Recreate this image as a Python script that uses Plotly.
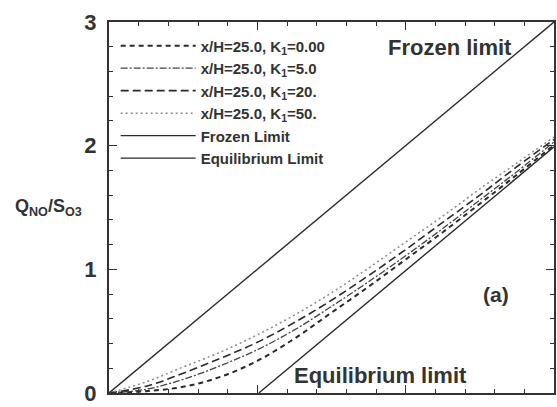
import plotly.graph_objects as go

x_vals = [0.0, 0.25, 0.5, 0.75, 1.0, 1.25, 1.5, 1.75, 2.0, 2.25, 2.5, 2.75, 3.0]
k0 = [0.0, 0.015, 0.05, 0.13, 0.26, 0.44, 0.65, 0.86, 1.08, 1.30, 1.53, 1.765, 2.005]
k5 = [0.0, 0.03, 0.11, 0.22, 0.35, 0.51, 0.70, 0.90, 1.11, 1.33, 1.56, 1.79, 2.03]
k20 = [0.0, 0.055, 0.16, 0.28, 0.41, 0.57, 0.75, 0.95, 1.16, 1.38, 1.60, 1.83, 2.05]
k50 = [0.0, 0.09, 0.21, 0.33, 0.47, 0.63, 0.81, 1.01, 1.22, 1.43, 1.65, 1.86, 2.07]
frozen_x = [0.0, 3.0]
frozen_y = [0.0, 3.0]
equil_x = [1.01, 3.0]
equil_y = [0.0, 1.99]

names = ["x/H=25.0, K<sub>1</sub>=0.00", "x/H=25.0, K<sub>1</sub>=5.0",
         "x/H=25.0, K<sub>1</sub>=20.", "x/H=25.0, K<sub>1</sub>=50.",
         "Frozen Limit", "Equilibrium Limit"]
y_tick_vals = [0, 1, 2, 3]
y_tick_text = ["0", "1", "2", "3"]

FONT = "Liberation Sans, Arial"
ink = "#2a2a2a"
fig = go.Figure()
fig.add_trace(go.Scatter(x=x_vals, y=k0, mode="lines", name="<b>" + names[0] + "</b>",
                         line=dict(color=ink, width=2, dash="5px,4px"), line_shape="spline"))
fig.add_trace(go.Scatter(x=x_vals, y=k5, mode="lines", name="<b>" + names[1] + "</b>",
                         line=dict(color="#444", width=1.3, dash="7px,2px,2px,2px"), line_shape="spline"))
fig.add_trace(go.Scatter(x=x_vals, y=k20, mode="lines", name="<b>" + names[2] + "</b>",
                         line=dict(color=ink, width=1.6, dash="8px,4px"), line_shape="spline"))
fig.add_trace(go.Scatter(x=x_vals, y=k50, mode="lines", name="<b>" + names[3] + "</b>",
                         line=dict(color="#8a8a8a", width=1.5, dash="2px,3px"), line_shape="spline"))
fig.add_trace(go.Scatter(x=frozen_x, y=frozen_y, mode="lines", name="<b>" + names[4] + "</b>",
                         line=dict(color=ink, width=1.4)))
fig.add_trace(go.Scatter(x=equil_x, y=equil_y, mode="lines", name="<b>" + names[5] + "</b>",
                         line=dict(color=ink, width=1.4)))

axis_common = dict(showline=True, linecolor="#333", linewidth=2, mirror="ticks",
                   ticks="inside", ticklen=8, tickwidth=1.3, tickcolor="#333",
                   showgrid=False, zeroline=False,
                   minor=dict(ticks="inside", ticklen=4, tickwidth=1, tickcolor="#333", dtick=0.2))
fig.update_xaxes(range=[0, 3], dtick=1, showticklabels=False, **axis_common)
fig.update_yaxes(range=[0, 3], tickvals=y_tick_vals,
                 ticktext=["<b>" + t + "</b>" for t in y_tick_text],
                 tickfont=dict(size=22, color="#333", family=FONT),
                 ticklabelstandoff=6, ticklabeloverflow="allow", **axis_common)

fig.add_annotation(x=-0.135, y=0.5, xref="paper", yref="paper", showarrow=False,
                   xanchor="center", yanchor="middle",
                   text="<b>Q<sub>NO</sub>/S<sub>O3</sub></b>",
                   font=dict(size=18, color="#333", family=FONT))
fig.add_annotation(x=2.30, y=2.79, showarrow=False, text="<b>Frozen limit</b>",
                   font=dict(size=22, color="#333", family=FONT))
fig.add_annotation(x=1.83, y=0.14, showarrow=False, text="<b>Equilibrium limit</b>",
                   font=dict(size=22, color="#333", family=FONT))
fig.add_annotation(x=2.61, y=0.80, showarrow=False, text="<b>(a)</b>",
                   font=dict(size=21, color="#333", family=FONT))

fig.update_layout(
    width=557, height=407,
    margin=dict(l=109, r=1, t=22, b=10),
    paper_bgcolor="white", plot_bgcolor="white",
    font=dict(family=FONT, color="#333"),
    showlegend=True,
    legend=dict(x=0.015, y=0.98, xanchor="left", yanchor="top",
                bgcolor="rgba(0,0,0,0)", font=dict(size=15, color="#333", family=FONT),
                itemwidth=75, tracegroupgap=0),
)

fig.write_html("out.html")
